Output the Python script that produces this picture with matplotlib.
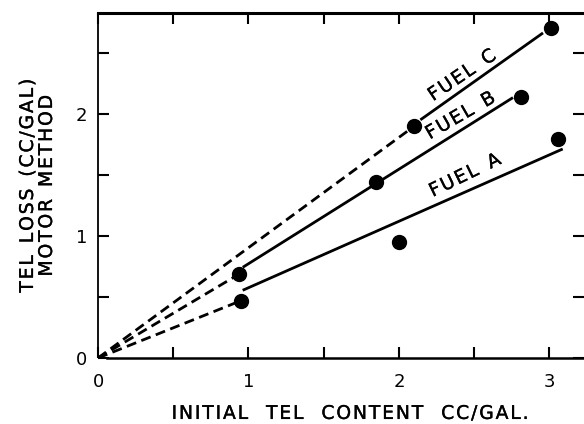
import matplotlib
matplotlib.use('Agg')
import matplotlib.pyplot as plt
import matplotlib.patheffects as pe
import numpy as np

# Pontos medidos (conteudo inicial de TEL x perda de TEL)
fuel_a_x = [0.95, 2.00, 3.06]
fuel_a_y = [0.47, 0.95, 1.80]
fuel_b_x = [0.94, 1.85, 2.81]
fuel_b_y = [0.69, 1.44, 2.14]
fuel_c_x = [2.10, 3.01]
fuel_c_y = [1.90, 2.71]

# Retas ajustadas (trecho tracejado a partir da origem + trecho continuo)
a_dash_x = [0.0, 0.95]
a_dash_y = [0.0, 0.47]
a_line_x = [0.97, 3.08]
a_line_y = [0.56, 1.71]
b_dash_x = [0.0, 0.94]
b_dash_y = [0.0, 0.69]
b_line_x = [0.97, 2.75]
b_line_y = [0.75, 2.13]
c_dash_x = [0.0, 2.10]
c_dash_y = [0.0, 1.90]
c_line_x = [2.15, 2.95]
c_line_y = [1.96, 2.66]

rotulos = ['FUEL A', 'FUEL B', 'FUEL C']
rotulo_x = [2.44, 2.41, 2.42]
rotulo_y = [1.50, 1.99, 2.32]
rotulo_ang = [26, 30, 34]


def espacado(s, gap='  '):
    # letras afastadas, como no letreiro original
    return '\u200a'.join(s).replace('\u200a \u200a', gap)


# traco um pouco mais grosso, parecido com o letreiro a normografo
traco = [pe.withStroke(linewidth=0.25, foreground='black')]

plt.rcParams['font.family'] = ['DejaVu Sans']

fig = plt.figure(figsize=(5.84, 4.24), dpi=100)
ax = fig.add_axes([98 / 584, 1 - 358 / 424, 1 - 98 / 584, (358 - 13) / 424])

lw = 2.0
for xs, ys in [(a_dash_x, a_dash_y), (b_dash_x, b_dash_y), (c_dash_x, c_dash_y)]:
    ax.plot(xs, ys, color='black', lw=lw, linestyle=(0, (3.6, 2.0)), solid_capstyle='butt')
for xs, ys in [(a_line_x, a_line_y), (b_line_x, b_line_y), (c_line_x, c_line_y)]:
    ax.plot(xs, ys, color='black', lw=lw)
for xs, ys in [(fuel_a_x, fuel_a_y), (fuel_b_x, fuel_b_y), (fuel_c_x, fuel_c_y)]:
    ax.plot(xs, ys, 'o', color='black', markersize=10, clip_on=False)

for txt, tx, ty, ang in zip(rotulos, rotulo_x, rotulo_y, rotulo_ang):
    ax.text(tx, ty, espacado(txt), rotation=ang, ha='center', va='center',
            fontsize=13.5, rotation_mode='anchor', path_effects=traco)

ax.set_xlim(0, 3.23)
ax.set_ylim(0, 2.83)

ax.set_xticks([0, 0.5, 1, 1.5, 2, 2.5, 3])
ax.set_xticklabels(['0', '', '1', '', '2', '', '3'], fontsize=13)
ax.set_yticks([0, 0.5, 1, 1.5, 2, 2.5])
ax.set_yticklabels(['0', '', '1', '', '2', ''], fontsize=13)
ax.tick_params(axis='both', direction='in', length=8, width=1.5, top=True, right=True, pad=8)
ax.tick_params(axis='x', pad=11)

ax.spines['right'].set_visible(False)
ax.spines['top'].set_linewidth(2.2)
ax.spines['bottom'].set_linewidth(1.8)
ax.spines['left'].set_linewidth(1.3)
ax.spines['left'].set_bounds(0.07, 2.83)
ax.spines['bottom'].set_bounds(0.06, 3.23)

ax.set_xlabel(espacado('INITIAL TEL CONTENT CC/GAL.', '   '), fontsize=13.5,
              path_effects=traco)
ax.xaxis.set_label_coords(0.52, -0.133)
ax.set_ylabel(espacado('TEL LOSS (CC/GAL)') + '\n' + espacado('MOTOR METHOD'),
              fontsize=13.5, labelpad=14, linespacing=1.0, path_effects=traco)

plt.savefig('out.png', dpi=100)
